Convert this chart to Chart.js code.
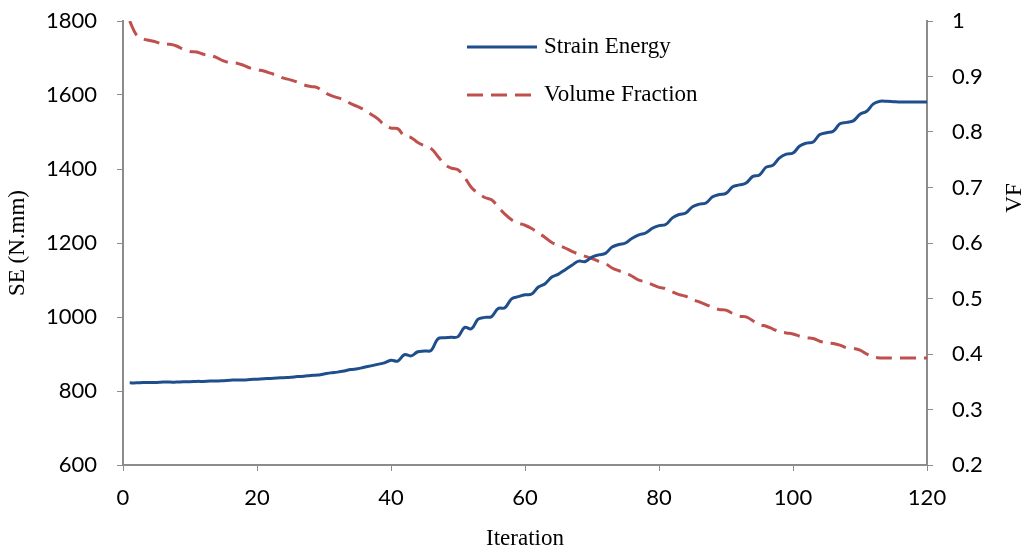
<!DOCTYPE html>
<html lang="en">
<head>
    <meta charset="UTF-8">
    <title>Strain Energy and Volume Fraction vs Iteration</title>
    <script src="https://cdn.jsdelivr.net/npm/chart.js"></script>
    <style>
        html, body { margin: 0; padding: 0; background: #fff; }
        .chart-box { width: 1032px; height: 553px; }
    </style>
</head>
<body>
    <div class="chart-box">
        <canvas id="historyChart" width="1032" height="553"></canvas>
    </div>
    <script>
        // iteration numbers 1..120
        const iterations = Array.from({ length: 120 }, (_, i) => i + 1);

        // strain energy (N.mm)
        const strainEnergy = [
            822, 822, 823, 823, 823, 824, 824, 824, 825, 825,
            826, 826, 827, 827, 828, 829, 830, 830, 831, 832,
            833, 834, 835, 836, 837, 839, 840, 842, 843, 846,
            849, 851, 854, 858, 860, 864, 868, 872, 876, 883,
            881, 898, 895, 906, 908, 910, 941, 944, 945, 947,
            972, 968, 994, 999, 1001, 1023, 1025, 1049, 1055, 1060,
            1062, 1081, 1090, 1108, 1116, 1128, 1140, 1151, 1150, 1162,
            1168, 1172, 1189, 1196, 1200, 1213, 1222, 1227, 1240, 1247,
            1250, 1268, 1277, 1281, 1298, 1305, 1308, 1325, 1331, 1334,
            1352, 1357, 1362, 1380, 1384, 1405, 1410, 1430, 1440, 1443,
            1462, 1470, 1473, 1493, 1498, 1502, 1522, 1526, 1530, 1548,
            1556, 1576, 1583, 1583, 1582, 1581, 1581, 1581, 1581, 1581
        ];

        // volume fraction
        const volumeFraction = [
            1.000, 0.975, 0.968, 0.965, 0.962, 0.958, 0.958, 0.955, 0.949, 0.945,
            0.944, 0.940, 0.938, 0.934, 0.928, 0.925, 0.924, 0.920, 0.915, 0.912,
            0.910, 0.906, 0.902, 0.897, 0.894, 0.890, 0.885, 0.882, 0.880, 0.872,
            0.866, 0.862, 0.858, 0.851, 0.846, 0.840, 0.832, 0.824, 0.813, 0.807,
            0.806, 0.793, 0.790, 0.781, 0.775, 0.770, 0.756, 0.742, 0.735, 0.732,
            0.718, 0.700, 0.690, 0.682, 0.678, 0.665, 0.652, 0.642, 0.636, 0.632,
            0.626, 0.618, 0.610, 0.601, 0.596, 0.591, 0.585, 0.580, 0.576, 0.572,
            0.567, 0.563, 0.555, 0.550, 0.546, 0.540, 0.533, 0.530, 0.525, 0.520,
            0.518, 0.512, 0.507, 0.504, 0.498, 0.494, 0.489, 0.484, 0.480, 0.479,
            0.473, 0.468, 0.467, 0.460, 0.453, 0.450, 0.445, 0.440, 0.438, 0.436,
            0.432, 0.429, 0.428, 0.423, 0.420, 0.419, 0.416, 0.411, 0.410, 0.407,
            0.400, 0.395, 0.393, 0.393, 0.393, 0.393, 0.393, 0.393, 0.393, 0.393
        ];

        const seTicks = [600, 800, 1000, 1200, 1400, 1600, 1800];
        const vfTicks = [0.2, 0.3, 0.4, 0.5, 0.6, 0.7, 0.8, 0.9, 1];
        const iterTicks = [0, 20, 40, 60, 80, 100, 120];

        const blue = '#1f4e8c';
        const red = '#c0504d';
        const axisGray = '#8c8c8c';
        const tickFont = { family: 'Lato', size: 22 };
        const titleFont = { family: 'Liberation Serif', size: 23 };

        // legend inside the plot + right axis title (reads bottom to top)
        const extrasPlugin = {
            id: 'extras',
            afterDraw(chart) {
                const ctx = chart.ctx;
                ctx.save();
                ctx.font = '23px "Liberation Serif"';
                ctx.textBaseline = 'middle';
                ctx.fillStyle = '#000';
                const items = chart.data.datasets;
                const rows = [47, 95];
                items.forEach((ds, i) => {
                    const y = rows[i];
                    ctx.beginPath();
                    ctx.strokeStyle = ds.borderColor;
                    ctx.lineWidth = ds.borderWidth;
                    ctx.setLineDash(ds.borderDash || []);
                    ctx.moveTo(467, y);
                    ctx.lineTo(537, y);
                    ctx.stroke();
                    ctx.setLineDash([]);
                    ctx.textAlign = 'left';
                    ctx.fillText(ds.label, 544, y);
                });
                // VF title
                ctx.translate(1015, 198);
                ctx.rotate(-Math.PI / 2);
                ctx.textAlign = 'center';
                ctx.fillText('VF', 0, 0);
                ctx.restore();
            }
        };

        // keep tick label overflow from pushing the plot area around
        const noPad = (s) => { s.paddingTop = 0; s.paddingBottom = 0; s.paddingLeft = 0; s.paddingRight = 0; };

        new Chart(document.getElementById('historyChart'), {
            type: 'line',
            data: {
                datasets: [{
                    label: 'Strain Energy',
                    data: iterations.map((it, i) => ({ x: it, y: strainEnergy[i] })),
                    borderColor: blue,
                    borderWidth: 3,
                    pointRadius: 0,
                    tension: 0.4,
                    yAxisID: 'y'
                }, {
                    label: 'Volume Fraction',
                    data: iterations.map((it, i) => ({ x: it, y: volumeFraction[i] })),
                    borderColor: red,
                    borderWidth: 3,
                    borderDash: [16, 8],
                    pointRadius: 0,
                    tension: 0.4,
                    yAxisID: 'y1'
                }]
            },
            options: {
                responsive: false,
                animation: false,
                layout: { padding: { top: 21, right: 0, bottom: 0, left: 0 } },
                plugins: {
                    legend: { display: false },
                    tooltip: { enabled: false }
                },
                scales: {
                    x: {
                        type: 'linear',
                        min: 0,
                        max: 120,
                        afterBuildTicks: (s) => { s.ticks = iterTicks.map(v => ({ value: v })); },
                        afterFit: (s) => { s.height = 88; noPad(s); },
                        grid: { drawOnChartArea: false, drawTicks: true, tickLength: 6, color: axisGray },
                        border: { color: axisGray, width: 2 },
                        ticks: { font: tickFont, color: '#000', padding: 14, maxRotation: 0 },
                        title: { display: true, text: 'Iteration', font: titleFont, color: '#000', padding: { top: 0, bottom: 0 } }
                    },
                    y: {
                        position: 'left',
                        min: 600,
                        max: 1800,
                        afterBuildTicks: (s) => { s.ticks = seTicks.map(v => ({ value: v })); },
                        afterFit: (s) => { s.width = 123; noPad(s); },
                        grid: { drawOnChartArea: false, drawTicks: true, tickLength: 6, color: axisGray },
                        border: { color: axisGray, width: 2 },
                        ticks: { font: tickFont, color: '#000', padding: 20, callback: (v) => String(v) },
                        title: { display: true, text: 'SE (N.mm)', font: titleFont, color: '#000', padding: { top: 4, bottom: 0 } }
                    },
                    y1: {
                        position: 'right',
                        min: 0.2,
                        max: 1,
                        afterBuildTicks: (s) => { s.ticks = vfTicks.map(v => ({ value: v })); },
                        afterFit: (s) => { s.width = 105; noPad(s); },
                        grid: { drawOnChartArea: false, drawTicks: true, tickLength: 6, color: axisGray },
                        border: { color: axisGray, width: 2 },
                        ticks: { font: tickFont, color: '#000', padding: 19, callback: (v) => String(Math.round(v * 10) / 10) }
                    }
                }
            },
            plugins: [extrasPlugin]
        });
    </script>
</body>
</html>
